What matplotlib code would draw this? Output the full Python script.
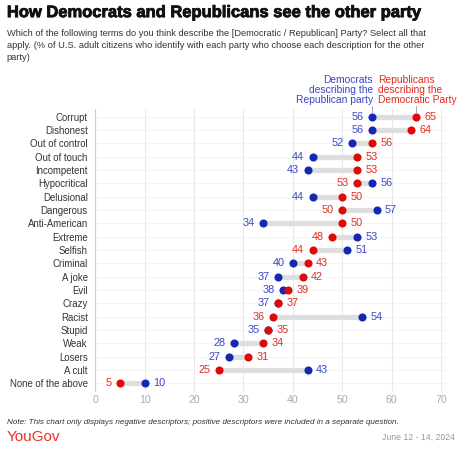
import matplotlib.pyplot as plt
import matplotlib.patheffects as pe
import numpy as np

plt.rcParams['font.family'] = ['Liberation Sans', 'DejaVu Sans']

terms = ['Corrupt', 'Dishonest', 'Out of control', 'Out of touch', 'Incompetent',
         'Hypocritical', 'Delusional', 'Dangerous', 'Anti-American', 'Extreme',
         'Selfish', 'Criminal', 'A joke', 'Evil', 'Crazy', 'Racist', 'Stupid',
         'Weak', 'Losers', 'A cult', 'None of the above']
dems = [56, 56, 52, 44, 43, 56, 44, 57, 34, 53, 51, 40, 37, 38, 37, 54, 35, 28, 27, 43, 10]
reps = [65, 64, 56, 53, 53, 53, 50, 50, 50, 48, 44, 43, 42, 39, 37, 36, 35, 34, 31, 25, 5]
ticks = [0, 10, 20, 30, 40, 50, 60, 70]

blue = '#1428b4'
blue_txt = '#3a46c6'
red = '#dd0a0a'
red_txt = '#e32b20'
fs = 7.8

fig = plt.figure(figsize=(4.6, 4.5), dpi=100)
ax = fig.add_axes([0.2075, 0.1304, 0.767, 0.628])

y = np.arange(len(terms))
for i in y:
    d, r = dems[i], reps[i]
    ax.plot([d, r], [i, i], color='#dedede', lw=3.8, solid_capstyle='butt', zorder=2)
    ax.axhline(i, color='#f2f2f2', lw=0.6, zorder=0)
    ax.scatter([d], [i], s=34, color=blue, zorder=3, linewidths=0)
    ax.scatter([r], [i], s=34, color=red, zorder=3, linewidths=0)
    if d > r:
        ax.annotate(str(d), (d, i), xytext=(6, 0), textcoords='offset points',
                    ha='left', va='center', color=blue_txt, fontsize=fs)
        ax.annotate(str(r), (r, i), xytext=(-6, 0), textcoords='offset points',
                    ha='right', va='center', color=red_txt, fontsize=fs)
    else:
        ax.annotate(str(d), (d, i), xytext=(-6, 0), textcoords='offset points',
                    ha='right', va='center', color=blue_txt, fontsize=fs)
        ax.annotate(str(r), (r, i), xytext=(6, 0), textcoords='offset points',
                    ha='left', va='center', color=red_txt, fontsize=fs)

ax.set_xlim(0, 71.5)
ax.set_ylim(len(terms) - 0.4, -0.6)
ax.set_xticks(ticks)
ax.set_yticks(y)
ax.set_yticklabels(terms, fontsize=6.9, color='#333333')
ax.tick_params(axis='x', colors='#aaaaaa', labelsize=7.6, length=0, pad=3)
ax.tick_params(axis='y', length=0, pad=5.5)
ax.grid(axis='x', color='#e8e8e8', lw=0.8, zorder=0)
ax.set_axisbelow(True)
for s in ['top', 'right', 'bottom']:
    ax.spines[s].set_visible(False)
ax.spines['left'].set_color('#cccccc')
ax.spines['left'].set_linewidth(0.8)

# series headers
ax.text(dems[0] + 0.2, -0.85, 'Democrats\ndescribing the\nRepublican party', ha='right', va='bottom',
        color=blue_txt, fontsize=7.4, linespacing=1.05, clip_on=False)
ax.text(reps[0] - 7.8, -0.85, 'Republicans\ndescribing the\nDemocratic Party', ha='left', va='bottom',
        color=red_txt, fontsize=7.4, linespacing=1.05, clip_on=False)
ax.plot([dems[0], dems[0]], [-0.8, -0.35], color='#999999', lw=0.6, clip_on=False)
ax.plot([reps[0], reps[0]], [-0.8, -0.35], color='#999999', lw=0.6, clip_on=False)

fig.text(0.015, 0.972, 'How Democrats and Republicans see the other party',
         fontsize=11.9, fontweight='bold', color='#111111', va='center',
         path_effects=[pe.withStroke(linewidth=0.6, foreground='#111111')])
fig.text(0.015, 0.935, 'Which of the following terms do you think describe the [Democratic / Republican] Party? Select all that\n'
         'apply. (% of U.S. adult citizens who identify with each party who choose each description for the other\n'
         'party)', fontsize=6.7, color='#333333', va='top', linespacing=1.4)
fig.text(0.015, 0.06, 'Note: This chart only displays negative descriptors; positive descriptors were included in a separate question.',
         fontsize=5.9, style='italic', color='#333333', va='center')
fig.text(0.015, 0.028, 'YouGov', fontsize=11, color='#ee3024', va='center')
fig.text(0.99, 0.028, 'June 12 - 14, 2024', fontsize=6.3, color='#999999', va='center', ha='right')

fig.savefig('out.png', dpi=100)
